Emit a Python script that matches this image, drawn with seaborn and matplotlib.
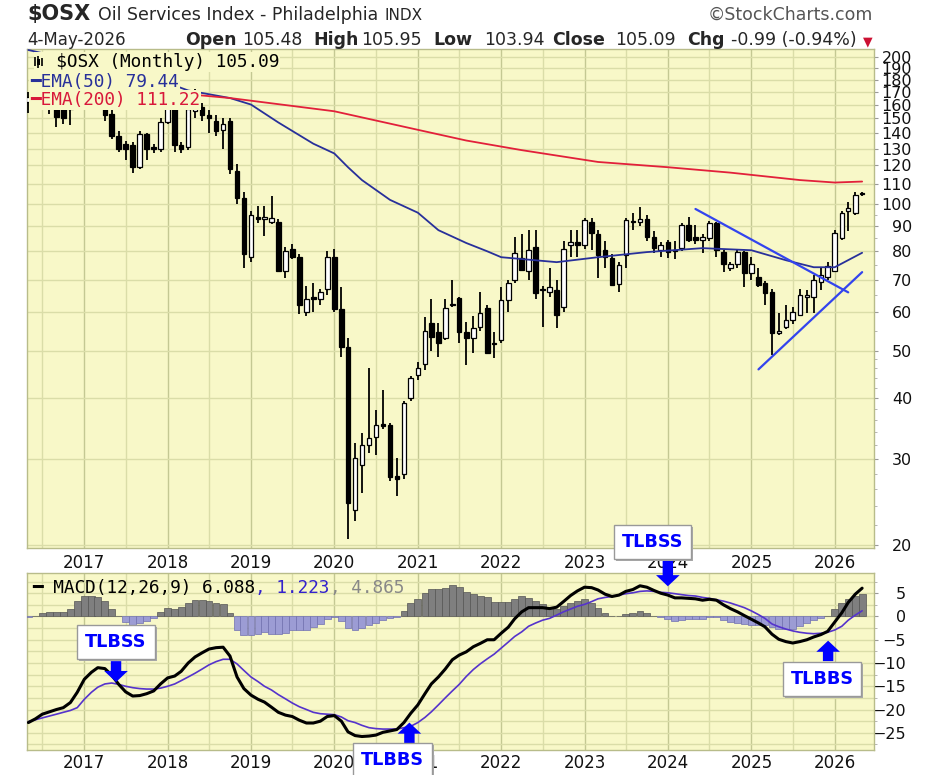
import numpy as np
import pandas as pd
import matplotlib
matplotlib.use("Agg")
import matplotlib.pyplot as plt
import matplotlib.dates as mdates
import matplotlib.ticker as mticker
import matplotlib.transforms as mtransforms
from matplotlib.patches import Rectangle
import seaborn as sns

# ---- monthly $OSX candles, May 2016 .. May 2026 ----
months = pd.date_range("2016-05-01", "2026-05-01", freq="MS")
opens = [
    162, 166, 163, 160, 160, 157, 157, 182,
    190, 186, 174, 165, 153, 138, 133, 132, 119, 139, 131, 130,
    147, 166, 132, 131, 155, 158, 152, 148, 142, 148, 117, 103,
    78, 94, 93, 92, 92, 73, 81, 78, 60, 64.5, 64, 67,
    78, 61, 51, 23.6, 29.1, 32, 33.2, 35.3, 35.2, 27.7, 28, 40.1,
    44.5, 47, 57, 54.6, 53.1, 62.5, 64.3, 54.6, 53, 55.9, 61.2, 52,
    52.5, 63.5, 69.8, 77.5, 73, 81.6, 67, 66, 66.5, 61.5, 82.5, 83.5,
    82.3, 91.8, 87, 80.4, 77.5, 68.5, 78.5, 92.5, 92, 93, 85.5, 80.4,
    83.5, 80.5, 81.2, 90.5, 85.5, 84.2, 85, 91.3, 79.7, 74, 75.2, 79.7,
    72.2, 71, 68.8, 65.9, 54.5, 55.9, 57.8, 59.2, 64.4, 64.4, 69.2, 71,
    73, 85, 97, 96, 105.48,
]
highs = [
    170, 175, 172, 168, 166, 162, 186, 196,
    197, 190, 178, 168, 156, 141, 135, 134, 141, 140, 133, 150,
    172, 168, 134, 160, 172, 161, 156, 152, 150, 150, 121, 106,
    97, 99, 99, 104, 93, 81.5, 83, 79, 68, 69, 67, 80,
    81, 67.5, 53, 32.3, 33.9, 46.2, 37.8, 41.5, 35.6, 30.2, 39.5, 44.4,
    47.5, 58.6, 64, 57, 64, 69.8, 64.5, 57.3, 59, 66, 62, 54.6,
    67.6, 70, 85.5, 87, 88.5, 88.5, 68, 74, 69.8, 84, 88.5, 88.5,
    93.5, 93.5, 88.5, 84, 79, 76, 93.5, 96, 98.6, 95, 88, 83.5,
    84.5, 84, 91.3, 94, 90.5, 87, 92.5, 92, 80.4, 76, 81, 80,
    78, 74, 69.5, 67, 59.7, 62, 61.5, 67, 66.5, 71.5, 74, 76,
    88.5, 97, 101, 106, 105.95,
]
lows = [
    154, 158, 157, 153, 144, 146, 145, 178,
    178, 170, 160, 148, 136, 128, 123, 116, 118, 123, 127, 128,
    146, 128, 127, 129, 150, 148, 140, 138, 130, 115, 100, 74,
    76, 91.5, 86, 91, 72.5, 70.5, 77, 59.5, 59, 60, 62, 65,
    60, 48.5, 20.6, 22.4, 25.5, 30.8, 30.6, 34.5, 27, 25.2, 27.3, 39.5,
    43.5, 45.6, 50, 48.5, 52.5, 61.4, 51.9, 46.7, 49.4, 55, 49.4, 48.3,
    52, 60, 69, 73, 70, 64, 56, 64.4, 55.7, 60, 78, 78,
    81, 80.5, 70.5, 74, 68, 66, 74, 88.5, 90, 84, 79.5, 78,
    77.5, 77, 80, 83.5, 83, 79.5, 84, 78, 72.5, 73, 74, 67.6,
    70, 67.6, 62, 49, 53.8, 55.5, 56.7, 59, 59.7, 59.7, 66.5, 70,
    72.5, 84.5, 88, 95, 103.94,
]
closes = [
    166, 163, 160, 162, 151, 150, 182, 190,
    186, 174, 165, 152, 138, 130, 130, 119, 139, 130, 130, 147,
    168, 132, 130, 157, 158, 152, 150, 141, 146, 118, 103, 79,
    95, 93, 94, 93.5, 73, 80, 78, 62, 64, 64, 66, 78,
    61, 51, 24.4, 30.2, 32, 33.1, 35.2, 35, 27.5, 27.3, 39, 44,
    46.2, 55, 53.3, 51.9, 61.2, 62, 54.6, 53.1, 55.7, 59.7, 49.6, 51.6,
    63.5, 68.8, 79.3, 73.2, 80.4, 65.6, 66.5, 67.5, 59.2, 81, 83.5, 82.3,
    92.7, 87.2, 78.5, 77.8, 68.2, 75, 92.7, 92, 93, 85.5, 81.2, 82.3,
    79.7, 80, 90.5, 84.2, 84.5, 85.5, 91.3, 80.4, 75.2, 75.2, 79.7, 72.2,
    75.5, 68.2, 65.8, 54.4, 54.7, 57.8, 60, 65, 65.2, 69.8, 71.5, 74.5,
    87.2, 96, 98, 104.5, 105.09,
]

# ---- moving averages ----
ema50_dates = ["2016-05", "2016-07", "2018-02", "2018-04", "2018-10", "2019-01",
               "2019-05", "2019-10", "2020-01", "2020-03", "2020-05", "2020-09",
               "2021-01", "2021-04", "2021-08", "2021-11", "2022-01", "2022-09",
               "2023-03", "2023-10", "2024-06", "2025-01", "2025-06", "2025-10",
               "2026-01", "2026-05"]
ema50_vals = [207, 204, 175, 171, 165, 160, 147, 133, 127, 119, 112, 102,
              96, 88.4, 83.2, 80, 77.8, 76, 77.8, 79.7, 81.2, 80.4, 76.7, 74.2,
              74.2, 79.44]
ema200_dates = ["2018-03", "2018-10", "2020-01", "2021-01", "2021-08", "2022-04",
                "2023-03", "2024-01", "2024-10", "2025-08", "2026-01", "2026-05"]
ema200_vals = [168.5, 165, 155, 142, 135, 129, 122, 119, 116, 112, 110.7, 111.22]

# ---- MACD(12,26,9) monthly ----
macd = [
    -22.8, -22.0, -21.0, -20.5, -20.0, -19.6, -18.5, -16.3,
    -13.5, -12.0, -11.0, -11.2, -12.6, -14.6, -16.2, -17.1, -17.0, -16.6, -16.0, -14.5,
    -13.2, -12.8, -11.8, -10.0, -8.7, -7.8, -7.0, -6.7, -6.6, -8.5, -13.0, -15.5,
    -16.9, -17.8, -18.4, -19.5, -20.6, -21.2, -21.5, -22.3, -22.9, -22.9, -22.5, -21.5,
    -21.3, -22.5, -24.8, -25.6, -25.8, -25.7, -25.5, -24.9, -24.6, -24.3, -22.8, -20.8,
    -19.0, -16.6, -14.5, -13.0, -11.3, -9.3, -8.3, -7.6, -6.5, -5.8, -5.0, -5.0,
    -3.6, -2.3, -0.5, 1.0, 1.9, 1.9, 1.9, 1.7, 2.0, 3.2, 4.5, 5.5,
    6.3, 6.2, 5.7, 4.8, 4.3, 4.6, 5.4, 5.8, 6.6, 6.3, 5.6, 5.0,
    4.6, 4.0, 4.0, 3.9, 3.8, 3.5, 3.7, 3.5, 2.5, 1.7, 1.0, 0.2,
    -0.6, -1.4, -2.2, -3.8, -4.9, -5.4, -5.7, -5.4, -5.0, -4.4, -3.9, -3.2,
    -1.2, 0.8, 3.0, 4.8, 6.088,
]
signal = [
    -22.6, -22.2, -21.8, -21.4, -21.0, -20.6, -20.2, -19.6,
    -17.8, -16.3, -15.2, -14.5, -14.3, -14.6, -15.0, -15.3, -15.5, -15.6, -15.6, -15.4,
    -15.0, -14.5, -13.8, -13.0, -12.2, -11.3, -10.4, -9.7, -9.2, -9.2, -10.2, -11.6,
    -13.0, -14.0, -15.0, -15.8, -16.8, -17.7, -18.6, -19.4, -20.0, -20.6, -20.9, -21.0,
    -21.1, -21.6, -22.4, -22.8, -23.4, -23.9, -24.1, -24.2, -24.2, -24.2, -23.9, -23.6,
    -22.8, -21.7, -20.5, -19.0, -17.5, -16.0, -14.6, -12.9, -11.4, -10.2, -9.1, -8.1,
    -6.8, -5.5, -4.3, -3.3, -2.1, -1.4, -0.8, -0.4, 0.3, 1.0, 1.6, 2.2,
    2.6, 3.2, 3.8, 4.1, 4.3, 4.6, 4.9, 5.1, 5.4, 5.5, 5.4, 5.2,
    5.1, 4.9, 4.7, 4.5, 4.4, 4.1, 3.9, 3.6, 3.3, 2.9, 2.4, 1.9,
    1.2, 0.4, -0.4, -1.6, -2.2, -2.7, -3.1, -3.4, -3.6, -3.7, -3.6, -3.4,
    -2.9, -2.1, -0.8, 0.3, 1.223,
]

# trendlines drawn on the price panel
trend_down = (["2024-05-01", "2026-03-01"], [97.7, 65.9])
trend_up = (["2025-02-01", "2026-05-01"], [45.8, 72.5])

price_ticks = [20, 30, 40, 50, 60, 70, 80, 90, 100, 110, 120, 130, 140, 150,
               160, 170, 180, 190, 200]
macd_ticks = [-25, -20, -15, -10, -5, 0, 5]

BG = "#F8F8C8"
GRID = "#DADDA8"
GRID_DARK = "#C4C893"
EDGE = "#B8BC8A"

sns.set_style("white")
plt.rcParams["font.family"] = ["DejaVu Sans"]

df = pd.DataFrame({"date": months, "open": opens, "high": highs,
                   "low": lows, "close": closes})
df["hist"] = np.array(macd) - np.array(signal)

W, H = 936, 775
fig = plt.figure(figsize=(W / 100, H / 100), dpi=100)


def box(l, t, r, b):
    return [l / W, 1 - b / H, (r - l) / W, (b - t) / H]


ax = fig.add_axes(box(27, 49, 874, 548))
axm = fig.add_axes(box(27, 573, 874, 750), sharex=ax)

# ---------------- price panel ----------------
up = df["close"] >= df["open"]
body_lo = df[["open", "close"]].min(axis=1)
body_h = (df["close"] - df["open"]).abs().clip(lower=0.4)
ax.vlines(df["date"], df["low"], df["high"], color="black", lw=1.3, zorder=3)
ax.bar(df["date"], body_h, bottom=body_lo, width=20,
       color=np.where(up, "white", "black"), edgecolor="black", lw=0.9, zorder=4)

sns.lineplot(x=pd.to_datetime(ema50_dates), y=ema50_vals, ax=ax,
             color="#28309A", lw=1.3, zorder=5)
sns.lineplot(x=pd.to_datetime(ema200_dates), y=ema200_vals, ax=ax,
             color="#E2203A", lw=1.3, zorder=5)
for xs, ys in (trend_down, trend_up):
    ax.plot(pd.to_datetime(xs), ys, color="#3344EE", lw=1.6, zorder=6)

ax.set_yscale("log")
ax.set_ylim(19.7, 208)
ax.set_xlim(pd.Timestamp("2016-04-25"), pd.Timestamp("2026-06-22"))
ax.yaxis.set_major_locator(mticker.FixedLocator(price_ticks))
ax.yaxis.set_major_formatter(mticker.FixedFormatter([str(t) for t in price_ticks]))
ax.yaxis.set_minor_locator(mticker.FixedLocator(list(range(22, 50, 2)) + list(range(55, 100, 5))))
ax.yaxis.set_minor_formatter(mticker.NullFormatter())

# legend block
legend_kw = dict(transform=ax.transAxes, va="center", ha="left", fontsize=12.8,
                 family="DejaVu Sans Mono", zorder=10,
                 bbox=dict(boxstyle="square,pad=0.05", fc=BG, ec="none"))
ax.text(0.009, 0.974, "  $OSX (Monthly) 105.09", color="black", **legend_kw)
ax.text(0.004, 0.934, "━EMA(50) 79.44", color="#28309A", **legend_kw)
ax.text(0.004, 0.898, "━EMA(200) 111.22", color="#D8183A", **legend_kw)
ax.vlines([0.010, 0.0135, 0.018], [0.965, 0.962, 0.966], [0.983, 0.986, 0.982],
          transform=ax.transAxes, color="black", lw=1.2, zorder=11)
ax.add_patch(Rectangle((0.0115, 0.968), 0.004, 0.011, transform=ax.transAxes,
                       fc="black", ec="none", zorder=11))

# ---------------- MACD panel ----------------
axm.bar(df["date"], df["hist"], width=30,
        color=np.where(df["hist"] >= 0, "#7F7F7F", "#9C9CD4"),
        edgecolor=np.where(df["hist"] >= 0, "#555555", "#7070B0"), lw=0.5, zorder=3)
sns.lineplot(x=df["date"], y=signal, ax=axm, color="#5533CC", lw=1.2, zorder=4)
sns.lineplot(x=df["date"], y=macd, ax=axm, color="black", lw=2.2, zorder=5)
axm.set_ylim(-28.7, 9.35)
axm.yaxis.set_major_locator(mticker.FixedLocator(macd_ticks))
axm.yaxis.set_minor_locator(mticker.FixedLocator([-27.5, -22.5, -17.5, -12.5, -7.5, -2.5, 2.5, 7.5]))

t1 = axm.text(0.006, 0.915, "━ MACD(12,26,9) 6.088", transform=axm.transAxes,
              va="center", ha="left", fontsize=12.8, family="DejaVu Sans Mono",
              color="black", zorder=10)
t2 = axm.annotate(", 1.223", xy=(1, 0), xycoords=t1, va="bottom", ha="left",
                  fontsize=12.8, family="DejaVu Sans Mono", color="#3322CC", zorder=10)
axm.annotate(", 4.865", xy=(1, 0), xycoords=t2, va="bottom", ha="left",
             fontsize=12.8, family="DejaVu Sans Mono", color="#888888", zorder=10)

# signal call-outs
callouts = [
    ("TLBSS", "2017-05-20", -5.4, "2017-05-20", -9.6, -14.1),
    ("TLBBS", "2020-09-12", -30.9, "2020-11-25", -27.2, -22.8),
    ("TLBSS", "2023-10-25", 16.1, "2024-01-01", 12.6, 6.5),
    ("TLBBS", "2025-11-06", -13.5, "2025-12-03", -9.6, -5.2),
]
shadow = mtransforms.offset_copy(axm.transData, fig=fig, x=2, y=-2, units="dots")
for label, tx, ty, axx, y0, y1 in callouts:
    tx = pd.Timestamp(tx)
    axx = pd.Timestamp(axx)
    axm.annotate("", xy=(axx, y1), xytext=(axx, y0), annotation_clip=False,
                 arrowprops=dict(arrowstyle="simple,head_length=0.8,head_width=1.7,tail_width=0.75",
                                 fc="#0000FF", ec="none", mutation_scale=10,
                                 shrinkA=0, shrinkB=0), zorder=18)
    axm.text(tx, ty, label, transform=shadow, ha="center", va="center",
             fontsize=12.7, weight="bold", color="none", clip_on=False, zorder=19,
             bbox=dict(boxstyle="square,pad=0.45", fc="#A8A8A8", ec="none"))
    axm.text(tx, ty, label, ha="center", va="center", fontsize=12.7, weight="bold",
             color="#0000FF", clip_on=False, zorder=20,
             bbox=dict(boxstyle="square,pad=0.45", fc="white", ec="#999999", lw=1))

# ---------------- shared styling ----------------
ax.xaxis.set_major_locator(mdates.YearLocator())
ax.xaxis.set_minor_locator(mdates.MonthLocator(bymonth=7))
ax.xaxis.set_major_formatter(mdates.DateFormatter("%Y"))

for a, pad, xpad in ((ax, 24.4, 4.3), (axm, 20, 2.9)):
    a.set_facecolor(BG)
    a.set_xlabel("")
    a.set_ylabel("")
    a.yaxis.tick_right()
    a.tick_params(axis="y", which="major", length=3, width=0.8, color="#999999",
                  pad=pad, labelsize=11.5, labelcolor="#111111")
    a.tick_params(axis="y", which="minor", length=2, width=0.6, color="#AAAAAA")
    a.tick_params(axis="x", which="both", length=0, pad=xpad, labelsize=12,
                  labelcolor="#111111")
    for lbl in a.get_yticklabels():
        lbl.set_horizontalalignment("right")
    a.grid(True, axis="x", which="major", color=GRID_DARK, lw=1.0, zorder=0)
    a.grid(True, axis="x", which="minor", color=GRID, lw=1.0, zorder=0)
    a.grid(True, axis="y", which="major", color=GRID, lw=1.0, zorder=0)
    a.set_axisbelow(True)
    for s in a.spines.values():
        s.set_color(EDGE)
        s.set_linewidth(1.0)
axm.grid(True, axis="y", which="minor", color=GRID, lw=1.0, zorder=0)
if ax.get_legend():
    ax.get_legend().remove()

# ---------------- header ----------------
def put(x, y, s, **kw):
    fig.text(x / W, 1 - y / H, s, va="baseline", **kw)


put(27, 20, "$OSX", fontsize=15, weight="bold")
put(98, 20, "Oil Services Index - Philadelphia", fontsize=12.5)
put(385, 20, "INDX", fontsize=11)
put(873, 20, "©StockCharts.com", fontsize=12.5, color="#555555", ha="right")
put(27, 45, "4-May-2026", fontsize=12)
for x, s, bold in [(185, "Open", True), (242, "105.48", False), (313, "High", True),
                   (361, "105.95", False), (433, "Low", True), (484, "103.94", False),
                   (552, "Close", True), (615, "105.09", False), (687, "Chg", True),
                   (731, "-0.99 (-0.94%)", False)]:
    put(x, 45, s, fontsize=12.5, weight="bold" if bold else "normal")
put(863, 45, "▼", fontsize=9, color="#CC1133")

fig.savefig("out.png", dpi=100, facecolor="white")
